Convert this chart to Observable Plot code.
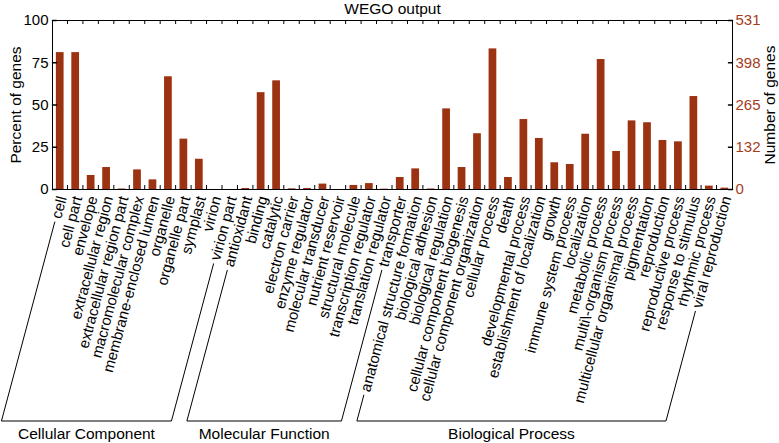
<!DOCTYPE html>
<html><head><meta charset="utf-8">
<script src="https://cdn.jsdelivr.net/npm/d3@7"></script>
<script src="https://cdn.jsdelivr.net/npm/@observablehq/plot@0.6"></script>
<style>body{margin:0;background:#fff} svg{display:block}</style>
</head><body><div id="chart"></div>
<script>
const title = "WEGO output";
const groupNames = ["Cellular Component", "Molecular Function", "Biological Process"];
const cellularComponent = ["cell","cell part","envelope","extracellular region","extracellular region part","macromolecular complex","membrane-enclosed lumen","organelle","organelle part","symplast","virion","virion part"];
const ccPercent = [81, 81, 8.3, 13, 0.3, 11.6, 5.7, 66.7, 29.8, 17.9, 0, 0];
const molecularFunction = ["antioxidant","binding","catalytic","electron carrier","enzyme regulator","molecular transducer","nutrient reservoir","structural molecule","transcription regulator","translation regulator","transporter"];
const mfPercent = [0.6, 57.3, 64.3, 0.4, 0.6, 3.2, 0, 2.4, 3.5, 0.2, 7.1];
const biologicalProcess = ["anatomical structure formation","biological adhesion","biological regulation","cellular component biogenesis","cellular component organization","cellular process","death","developmental process","establishment of localization","growth","immune system process","localization","metabolic process","multi\\-organism process","multicellular organismal process","pigmentation","reproduction","reproductive process","response to stimulus","rhythmic process","viral reproduction"];
const bpPercent = [12.2, 0.3, 47.7, 13, 33, 83.2, 7.1, 41.4, 30.2, 15.8, 14.8, 32.7, 76.9, 22.5, 40.6, 39.5, 29, 28.2, 55, 2, 0.8];
const percentTicks = [0, 25, 50, 75, 100];
const countTickLabels = ["0", "132", "265", "398", "531"];
const leftLabel = "Percent of genes";
const rightLabel = "Number of genes";

const groups = [cellularComponent, molecularFunction, biologicalProcess];
const groupValues = [ccPercent, mfPercent, bpPercent];
const rows = groups.flatMap((cats, g) => cats.map((c, i) => ({term: c, percent: groupValues[g][i], group: groupNames[g]})));
const categories = rows.map(d => d.term);

const W = 779, H = 443, ML = 52, MR = 47, MT = 20, MB = 254;
const FONT = "'Liberation Sans', Arial, Helvetica, sans-serif";
const LABEL_SIZE = 15;
const barColor = "#9b3211", countColor = "#a43c1c";
const tickShape = {draw(ctx, l) { ctx.moveTo(0, 0); ctx.lineTo(0, -l); }};

const plot = Plot.plot({
  width: W, height: H, marginLeft: ML, marginRight: MR, marginTop: MT, marginBottom: MB,
  style: {fontFamily: FONT, fontSize: "15px", color: "black", background: "white", overflow: "visible"},
  x: {domain: categories, paddingInner: 0.5, paddingOuter: 0.25, round: false, axis: null},
  y: {domain: [0, 100], axis: null},
  marks: [
    Plot.barY(rows, {x: "term", y: "percent", fill: barColor}),
    Plot.frame({stroke: "black"}),
    Plot.axisY({anchor: "left", ticks: percentTicks, tickSize: 0, tickPadding: 4, fontSize: 15, label: null}),
    Plot.axisY({anchor: "right", ticks: percentTicks, tickSize: 0, tickPadding: 3, fontSize: 15, label: null,
      color: countColor, tickFormat: d => countTickLabels[percentTicks.indexOf(d)]}),
    Plot.vector(percentTicks, {y: d => d, frameAnchor: "left", length: 4, rotate: 90, anchor: "start", shape: tickShape, stroke: "black"}),
    Plot.vector(percentTicks, {y: d => d, frameAnchor: "right", length: 4, rotate: -90, anchor: "start", shape: tickShape, stroke: "black"}),
    Plot.text(categories, {x: d => d, frameAnchor: "bottom", rotate: -75, textAnchor: "end", lineAnchor: "middle", dy: 7, dx: 2, fontSize: LABEL_SIZE}),
    Plot.text([title], {frameAnchor: "top", textAnchor: "middle", lineAnchor: "middle", dy: -11, fontSize: 15.5}),
    Plot.text([leftLabel], {frameAnchor: "left", textAnchor: "middle", lineAnchor: "middle", dx: -36, rotate: -90, fontSize: 15.5}),
    Plot.text([rightLabel], {frameAnchor: "right", textAnchor: "middle", lineAnchor: "middle", dx: 38, rotate: -90, fontSize: 15.5})
  ]
});

// category boundary ticks (inward, top & bottom) and group brackets, from the x scale
const svg = d3.select(plot);
const xs = plot.scale("x");
const step = xs.step, bw = xs.bandwidth;
const gTicks = svg.append("g").attr("stroke", "black").attr("stroke-width", 1);
categories.forEach((c, i) => {
  if (i === 0) return;
  const bx = xs.apply(c) - (step - bw) / 2;
  gTicks.append("line").attr("x1", bx).attr("x2", bx).attr("y1", MT).attr("y2", MT + 4);
  gTicks.append("line").attr("x1", bx).attr("x2", bx).attr("y1", H - MB - 4).attr("y2", H - MB);
});

const ctx = document.createElement("canvas").getContext("2d");
ctx.font = `${LABEL_SIZE}px ${FONT}`;
const ang = 75 * Math.PI / 180, cs = Math.cos(ang), sn = Math.sin(ang);
const gap = 4, baseY = 421;
function labelStart(term) {
  const ax = xs.apply(term) + bw / 2 + 2, ay = H - MB + 7;
  const len = ctx.measureText(term).width + gap;
  return [ax - len * cs, ay + len * sn];
}
const gBr = svg.append("g");
groups.forEach((cats, g) => {
  const p1 = labelStart(cats[0]), p2 = labelStart(cats[cats.length - 1]);
  const b1 = [p1[0] - (baseY - p1[1]) * cs / sn, baseY];
  const b2 = [p2[0] - (baseY - p2[1]) * cs / sn, baseY];
  gBr.append("path").attr("d", `M${p1}L${b1}L${b2}L${p2}`).attr("fill", "none").attr("stroke", "black").attr("stroke-width", 1);
  gBr.append("text").attr("x", (b1[0] + b2[0]) / 2).attr("y", 439).attr("text-anchor", "middle")
    .attr("font-size", 15.5).attr("font-family", FONT).text(groupNames[g]);
});

document.getElementById("chart").appendChild(plot);
</script>
</body></html>
